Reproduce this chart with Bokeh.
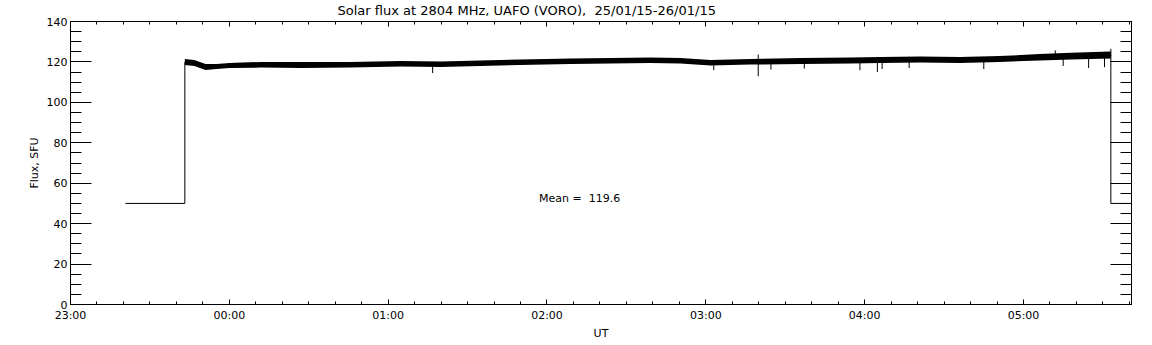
from bokeh.plotting import figure
from bokeh.models import Range1d, LinearAxis, FixedTicker, Label, CustomLabelingPolicy
from bokeh.embed import file_html
from bokeh.resources import INLINE

# ---------------- data (hours after 23:00 UT) ----------------
title_text = "Solar flux at 2804 MHz, UAFO (VORO),\u00a0\u00a025/01/15-26/01/15"
tick_labels = ["23:00", "00:00", "01:00", "02:00", "03:00", "04:00", "05:00"]
y_ticks = [0, 20, 40, 60, 80, 100, 120, 140]

pre_t = [0.346, 0.72]
pre_v = [50, 50]
post_t = [6.55, 6.75]
post_v = [50, 50]

band_t = [0.72, 0.78, 0.85, 0.92, 1.00, 1.20, 1.45, 1.76, 2.08, 2.33, 2.58, 2.83, 3.15, 3.40,
          3.65, 3.84, 4.03, 4.28, 4.60, 4.91, 5.10, 5.35, 5.60, 5.85, 6.10, 6.30, 6.55]
band_hi = [121.4, 120.9, 119.0, 119.0, 119.5, 120.0, 120.0, 120.0, 120.5, 120.2, 120.7, 121.2, 121.7, 121.9,
           122.2, 121.9, 120.9, 121.4, 121.9, 122.2, 122.4, 122.7, 122.4, 122.9, 123.9, 124.6, 125.1]
band_lo = [118.5, 118.0, 116.0, 116.5, 117.0, 117.2, 117.0, 117.2, 117.7, 117.5, 118.0, 118.5, 119.0, 119.2,
           119.5, 119.2, 118.2, 118.7, 119.0, 119.2, 119.5, 119.7, 119.5, 120.0, 120.7, 121.2, 121.7]
band_mid = [119.9, 119.4, 117.5, 117.7, 118.2, 118.6, 118.5, 118.6, 119.1, 118.8, 119.3, 119.8, 120.3, 120.5,
            120.8, 120.5, 119.5, 120.0, 120.4, 120.7, 121.0, 121.2, 121.0, 121.4, 122.3, 122.9, 123.4]

spike_t = [2.28, 4.05, 4.33, 4.41, 4.62, 4.97, 5.08, 5.11, 5.28, 5.75, 6.20, 6.25, 6.41, 6.51, 6.55]
spike_lo = [114.5, 115.9, 112.9, 116.2, 116.7, 115.9, 115.0, 116.5, 117.0, 116.5, 121.0, 118.0, 117.0, 117.4, 123.0]
spike_hi = [120.0, 120.5, 123.7, 121.0, 121.5, 122.0, 122.0, 122.0, 122.5, 122.5, 125.7, 124.0, 124.5, 125.0, 126.5]

mean_value = 119.6
mean_pos = (2.95, 52.6)

FONT = "DejaVu Sans"

p = figure(width=1150, height=342, x_range=Range1d(0, 6.68), y_range=Range1d(0, 140),
           output_backend="svg", toolbar_location=None,
           min_border_left=70, min_border_right=19, min_border_top=0, min_border_bottom=0)
p.background_fill_color = "white"
p.border_fill_color = "white"
p.outline_line_color = "black"
p.grid.visible = False

# title
p.title.text = title_text
p.title.text_font = FONT
p.title.text_font_size = "13px"
p.title.text_font_style = "normal"
p.title.text_color = "black"
p.title.align = "left"
p.title.offset = 267
p.title.standoff = 0

xticker = FixedTicker(ticks=list(range(len(tick_labels))),
                      minor_ticks=[i / 6 for i in range(6 * 7)])
yticker = FixedTicker(ticks=y_ticks, minor_ticks=list(range(0, 141, 5)))

hide_all = CustomLabelingPolicy(code="""
    for (const i of indices) { indices.unset(i) }
    return indices
""")


def style(ax, tin, mtin, labels=True):
    ax.axis_line_color = "black"
    ax.major_tick_line_color = "black"
    ax.minor_tick_line_color = "black"
    ax.major_tick_in = tin
    ax.major_tick_out = 0
    ax.minor_tick_in = mtin
    ax.minor_tick_out = 0
    ax.major_label_text_font = FONT
    ax.major_label_text_color = "black"
    ax.axis_label_text_font = FONT
    ax.axis_label_text_font_style = "normal"
    ax.axis_label_text_color = "black"
    if labels:
        ax.major_label_text_font_size = "11px"
    else:
        ax.major_label_text_font_size = "1px"
        ax.major_label_standoff = 0
        ax.major_label_policy = hide_all


xa = p.xaxis[0]
xa.ticker = xticker
xa.major_label_overrides = {i: s for i, s in enumerate(tick_labels)}
style(xa, 5, 3)
xa.major_label_standoff = 4
xa.axis_label = "UT"
xa.axis_label_text_font_size = "11px"
xa.axis_label_standoff = 2

ya = p.yaxis[0]
ya.ticker = yticker
style(ya, 21, 11)
ya.major_label_standoff = 3
ya.axis_label = "Flux, SFU"
ya.axis_label_text_font_size = "11px"
ya.axis_label_standoff = 3

top = LinearAxis(ticker=xticker)
style(top, 5, 3, labels=False)
p.add_layout(top, "above")
right = LinearAxis(ticker=yticker)
style(right, 21, 11, labels=False)
p.add_layout(right, "right")

# data
p.varea(x=band_t, y1=band_lo, y2=band_hi, fill_color="black")
p.line(x=pre_t + band_t + post_t, y=pre_v + band_mid + post_v, line_color="black", line_width=1)
p.segment(x0=spike_t, y0=spike_lo, x1=spike_t, y1=spike_hi, line_color="black", line_width=1)

p.add_layout(Label(x=mean_pos[0], y=mean_pos[1], text="Mean =\u00a0\u00a0%.1f" % mean_value,
                   text_font=FONT, text_font_size="11px", text_color="black",
                   text_baseline="middle", text_align="left"))

open("out.html", "w").write(file_html(p, INLINE))
